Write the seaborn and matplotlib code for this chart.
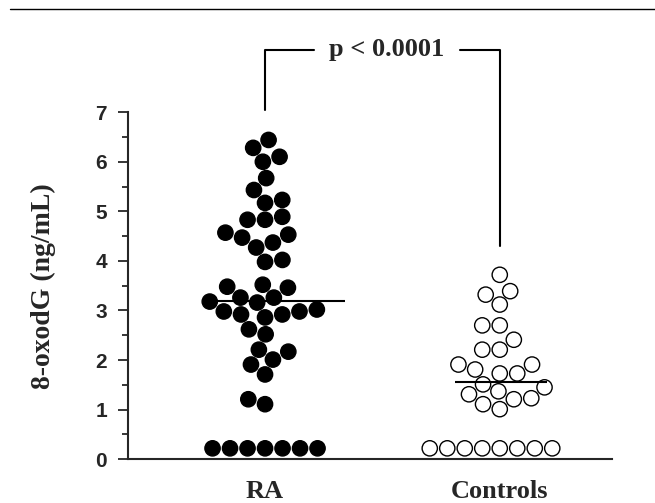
import numpy as np
import pandas as pd
import matplotlib
matplotlib.use("Agg")
import matplotlib.pyplot as plt
import seaborn as sns

# values (ng/mL)
ra_values = [
    6.44, 6.28, 6.10, 6.00, 5.67, 5.43, 5.23, 5.17, 4.89, 4.83, 4.83,
    4.57, 4.53, 4.47, 4.37, 4.27, 4.02, 3.98, 3.52, 3.48, 3.46, 3.26,
    3.26, 3.18, 3.16, 3.02, 2.98, 2.98, 2.92, 2.92, 2.86, 2.62, 2.52,
    2.21, 2.17, 2.01, 1.91, 1.71, 1.21, 1.11,
    0.22, 0.22, 0.22, 0.22, 0.22, 0.22, 0.22,
]
control_values = [
    3.72, 3.39, 3.32, 3.12, 2.70, 2.70, 2.41, 2.21, 2.21, 1.91, 1.91,
    1.81, 1.73, 1.73, 1.51, 1.45, 1.37, 1.31, 1.23, 1.21, 1.11, 1.01,
    0.22, 0.22, 0.22, 0.22, 0.22, 0.22, 0.22, 0.22,
]
groups = ["RA", "Controls"]
medians = [3.2, 1.55]
p_label = "p < 0.0001"
y_label = "8-oxodG (ng/mL)"

df = pd.DataFrame({
    "group": ["RA"] * len(ra_values) + ["Controls"] * len(control_values),
    "value": ra_values + control_values,
})

sns.set_style("ticks")
serif = ["Liberation Serif", "DejaVu Serif"]
sans = ["Liberation Sans", "DejaVu Sans"]

fig = plt.figure(figsize=(6.55, 5.03), dpi=100)
ax = fig.add_axes([0.195, 0.087, 0.74, 0.69])

sns.swarmplot(data=df, x="group", y="value", hue="group", order=groups,
              palette={"RA": "black", "Controls": "white"},
              edgecolor="black", linewidth=1.0, size=11, legend=False, ax=ax)

# median bars
ax.hlines(medians[0], -0.23, 0.34, color="black", lw=1.5, zorder=5)
ax.hlines(medians[1], 0.81, 1.20, color="black", lw=1.5, zorder=5)

ax.set_xlim(-0.585, 1.48)
ax.set_ylim(0, 7)
ax.set_yticks(range(0, 8))
ax.set_yticks(np.arange(0.5, 7, 1.0), minor=True)
ax.tick_params(axis="y", which="major", length=7, width=1.3, direction="out", pad=8)
ax.tick_params(axis="y", which="minor", length=4, width=1.3, direction="out")
ax.tick_params(axis="x", length=0, pad=15)
for lab in ax.get_yticklabels():
    lab.set_family(sans)
    lab.set_fontweight("bold")
    lab.set_fontsize(15)
ax.set_xticks([0, 1])
ax.set_xticklabels(groups, family=serif, fontweight="bold", fontsize=19)
ax.set_xlabel("")
ax.set_ylabel(y_label, family=serif, fontweight="bold", fontsize=20, labelpad=28)
sns.despine(ax=ax)
for s in ["left", "bottom"]:
    ax.spines[s].set_linewidth(1.5)

# significance bracket above the axes
ax.plot([0, 0, 0.21], [7.05, 8.25, 8.25], color="black", lw=1.5, clip_on=False)
ax.plot([0.83, 1, 1], [8.25, 8.25, 4.3], color="black", lw=1.5, clip_on=False)
ax.text(0.52, 8.27, p_label, ha="center", va="center", family=serif,
        fontweight="bold", fontsize=19)

# rule at the top of the page
fig.add_artist(plt.Line2D([0.015, 1.0], [0.982, 0.982], color="black", lw=1.0))

fig.savefig("out.png", dpi=100)
